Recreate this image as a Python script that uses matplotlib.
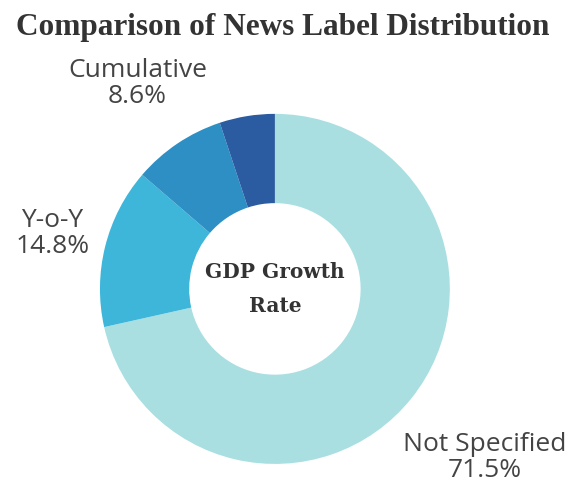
import numpy as np
import matplotlib.pyplot as plt

labels = ["Not Specified", "Y-o-Y", "Cumulative", ""]
values = [71.5, 14.8, 8.6, 5.1]
colors = ["#a9dfe1", "#3db6da", "#2d8fc3", "#2b5ba0"]
label_dist = [1.54, 1.31, 1.41, 1.3]

fig = plt.figure(figsize=(5.78, 4.88), dpi=100)
ax = fig.add_axes([0.0216, -0.130, 0.908, 1.076])

wedges, _ = ax.pie(values, colors=colors, startangle=90, counterclock=False,
                   radius=1.0, wedgeprops=dict(width=0.51, edgecolor="none"))
ax.set_xlim(-1.5, 1.5)
ax.set_ylim(-1.5, 1.5)
ax.set_aspect("auto")
ax.axis("off")

for w, lab, val, d in zip(wedges, labels, values, label_dist):
    if not lab:
        continue
    ang = np.deg2rad((w.theta1 + w.theta2) / 2)
    ax.text(d * np.cos(ang), d * np.sin(ang), f"{lab}\n{val}%",
            ha="center", va="center", fontsize=19, color="#444444",
            family="Open Sans", linespacing=1.05)

ax.text(0, 0, "GDP Growth\nRate", ha="center", va="center", fontsize=14.5,
        family="DejaVu Serif", fontweight="bold", color="#333333",
        linespacing=1.9)

fig.text(0.49, 0.943, "Comparison of News Label Distribution", ha="center",
         va="center", fontsize=22.5, fontweight="bold", family="Liberation Serif",
         color="#333333")

fig.savefig("out.png", dpi=100)
